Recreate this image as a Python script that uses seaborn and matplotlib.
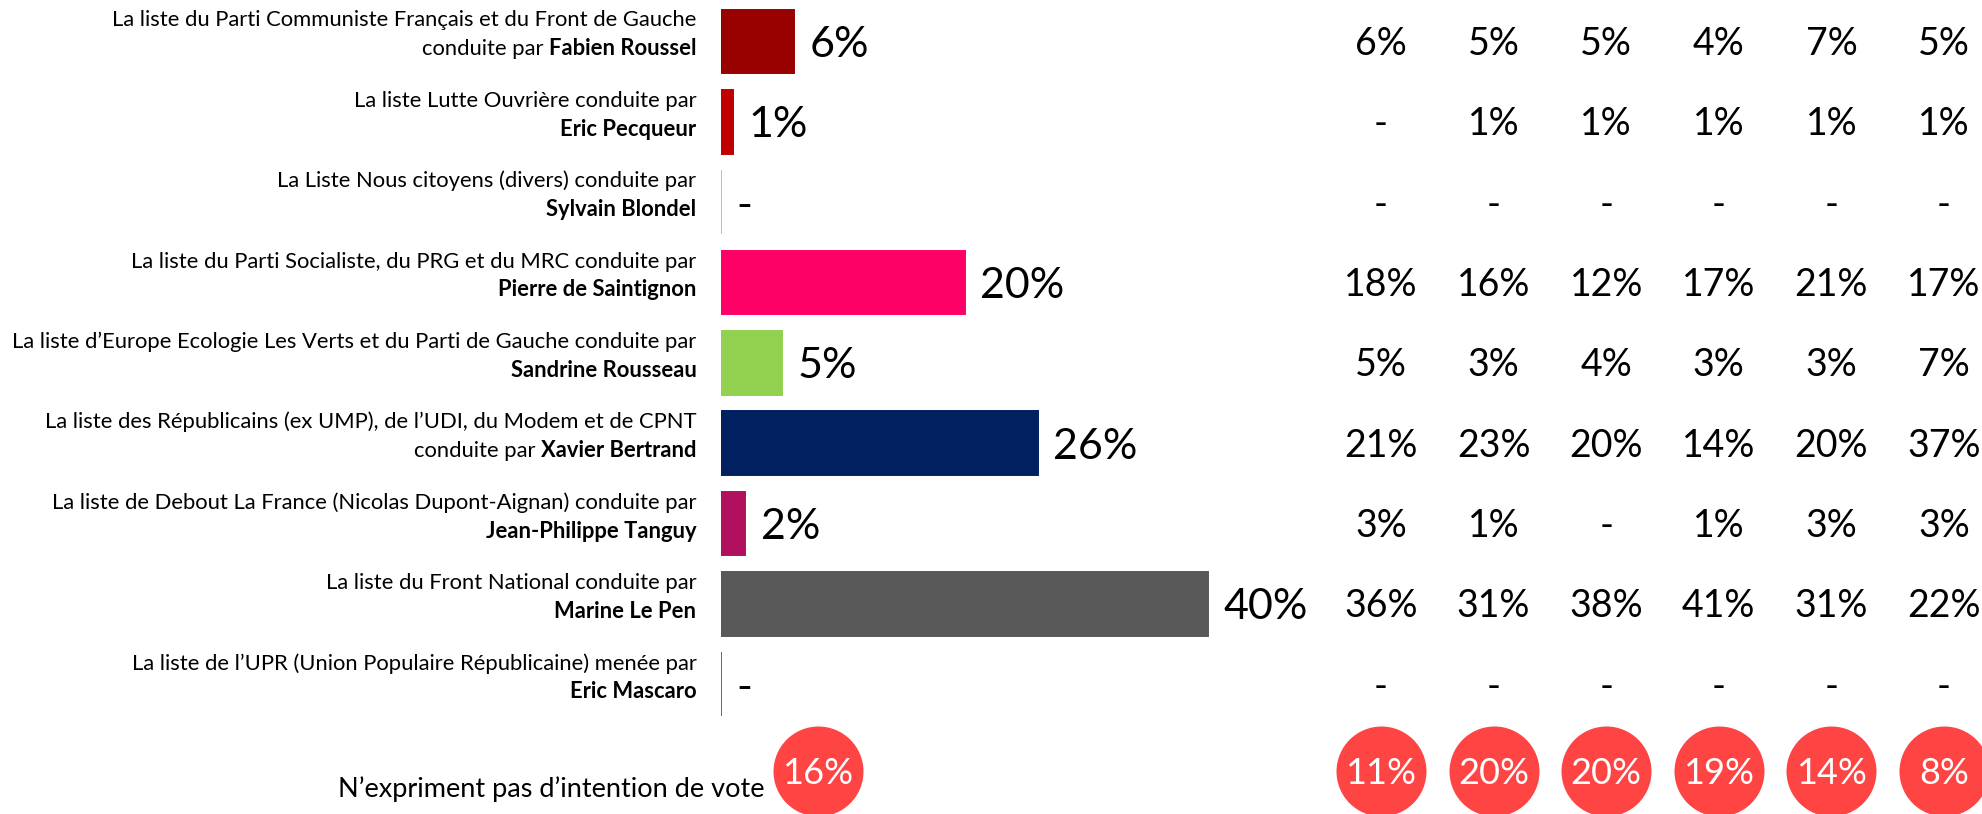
import matplotlib
matplotlib.use("Agg")
import matplotlib.pyplot as plt
import matplotlib.transforms as mtransforms
import pandas as pd
import seaborn as sns

# --- données ---
listes = ["PCF-FG", "LO", "Nous citoyens", "PS-PRG-MRC", "EELV-PG", "LR-UDI-Modem-CPNT", "DLF", "FN", "UPR"]
intitules = [
    "La liste du Parti Communiste Français et du Front de Gauche",
    "La liste Lutte Ouvrière conduite par",
    "La Liste Nous citoyens (divers) conduite par",
    "La liste du Parti Socialiste, du PRG et du MRC conduite par",
    "La liste d’Europe Ecologie Les Verts et du Parti de Gauche conduite par",
    "La liste des Républicains (ex UMP), de l’UDI, du Modem et de CPNT",
    "La liste de Debout La France (Nicolas Dupont-Aignan) conduite par",
    "La liste du Front National conduite par",
    "La liste de l’UPR (Union Populaire Républicaine) menée par",
]
prefixes = ["conduite par ", "", "", "", "", "conduite par ", "", "", ""]
tetes_de_liste = ["Fabien Roussel", "Eric Pecqueur", "Sylvain Blondel", "Pierre de Saintignon",
                  "Sandrine Rousseau", "Xavier Bertrand", "Jean-Philippe Tanguy", "Marine Le Pen",
                  "Eric Mascaro"]
intentions = [6, 1, 0, 20, 5, 26, 2, 40, 0]
couleurs = ["#990000", "#C00000", "#FFC000", "#FF0066", "#92D050", "#002060", "#B0105E", "#595959", "#2E75B6"]

# colonnes de droite (0 = "-")
detail = [
    [6, 5, 5, 4, 7, 5],
    [0, 1, 1, 1, 1, 1],
    [0, 0, 0, 0, 0, 0],
    [18, 16, 12, 17, 21, 17],
    [5, 3, 4, 3, 3, 7],
    [21, 23, 20, 14, 20, 37],
    [3, 1, 0, 1, 3, 3],
    [36, 31, 38, 41, 31, 22],
    [0, 0, 0, 0, 0, 0],
]
abst_label = "N’expriment pas d’intention de vote"
abst_total = 16
abst_detail = [11, 20, 20, 19, 14, 8]

ROUGE = "#FF4444"
NUM_FONT = "Lato"
TXT_FONT = "Lato"


def fmt(v):
    return f"{v}%" if v else "-"


sns.set_style("white")
plt.rcParams["text.color"] = "black"
W, H = 1983, 814
fig = plt.figure(figsize=(W / 100, H / 100), dpi=100)
# petit décalage vers le bas des pastilles rouges
shift = mtransforms.ScaledTranslation(0, -6 / 100, fig.dpi_scale_trans)

# barres
ax = fig.add_axes([721 / W, 9.3 / H, 609 / W, 803.4 / H])
df = pd.DataFrame({"liste": listes, "intention": intentions})
sns.barplot(data=df, x="intention", y="liste", hue="liste", palette=couleurs, orient="h",
            width=0.79, errorbar=None, legend=False, saturation=1, ax=ax)
for p in ax.patches:
    p.set_edgecolor(p.get_facecolor())
    p.set_linewidth(1.4)
ax.set_xlim(0, 50)
ax.set_ylim(9.5, -0.5)
ax.axis("off")

for i, v in enumerate(intentions):
    ax.annotate(fmt(v), xy=(v, i), xytext=(11, -0.36 * 31), textcoords="offset points",
                ha="left", va="baseline", fontsize=31, family=NUM_FONT)

# libellés des listes
for i in range(len(listes)):
    ax.annotate(intitules[i], xy=(0, i), xycoords=("axes fraction", "data"),
                xytext=(-17.7, 15.1), textcoords="offset points",
                ha="right", va="center", fontsize=15.8, family=TXT_FONT)
    b = ax.annotate(tetes_de_liste[i], xy=(0, i), xycoords=("axes fraction", "data"),
                    xytext=(-17.7, -5.4), textcoords="offset points",
                    ha="right", va="center", fontsize=15.8, family=TXT_FONT, fontweight="bold")
    if prefixes[i]:
        ax.annotate(prefixes[i], xy=(0, 0), xycoords=b, ha="right", va="bottom",
                    fontsize=15.8, family=TXT_FONT)

# abstention
ax.annotate(abst_label, xy=(0, 9), xycoords=("axes fraction", "data"),
            xytext=(31, -23.3), textcoords="offset points",
            ha="right", va="baseline", fontsize=19.5, family=TXT_FONT)
trans = mtransforms.blended_transform_factory(ax.transAxes, ax.transData)
ABST_X = 0.159
ax.scatter([ABST_X], [9], s=4200, color=ROUGE, linewidths=0, transform=trans + shift,
           clip_on=False)
ax.annotate(fmt(abst_total), xy=(ABST_X, 9), xycoords=trans, xytext=(0, -0.36 * 26 - 4.3),
            textcoords="offset points", ha="center", va="baseline", fontsize=26,
            family=NUM_FONT, color="white")

# tableau de droite
tx = fig.add_axes([1324.7 / W, 9.3 / H, 675.6 / W, 803.4 / H])
tx.set_xlim(-0.5, 5.5)
tx.set_ylim(9.5, -0.5)
tx.axis("off")
for i, row in enumerate(detail):
    for j, v in enumerate(row):
        tx.annotate(fmt(v), xy=(j, i), xytext=(0, -0.36 * 27), textcoords="offset points",
                    ha="center", va="baseline", fontsize=27, family=NUM_FONT)

cols = list(range(len(abst_detail)))
tx.scatter(cols, [9] * len(cols), s=4200, color=ROUGE, linewidths=0,
           transform=tx.transData + shift, clip_on=False)
for j, v in enumerate(abst_detail):
    tx.annotate(fmt(v), xy=(j, 9), xytext=(0, -0.36 * 26 - 4.3), textcoords="offset points",
                ha="center", va="baseline", fontsize=26, family=NUM_FONT, color="white")

fig.savefig("out.png", dpi=100)
